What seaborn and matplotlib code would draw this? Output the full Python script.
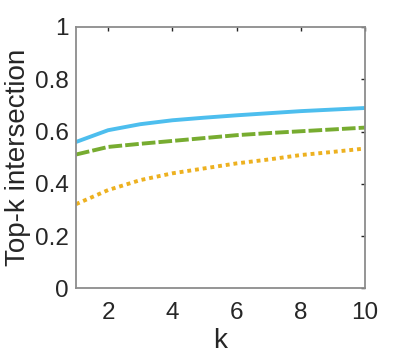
import numpy as np
import pandas as pd
import matplotlib
matplotlib.use('Agg')
import matplotlib.pyplot as plt
import seaborn as sns

k = [1, 2, 3, 4, 5, 6, 7, 8, 9, 10]
blue_vals = [0.560, 0.605, 0.628, 0.643, 0.653, 0.662, 0.670, 0.678, 0.684, 0.690]
green_vals = [0.512, 0.541, 0.553, 0.564, 0.575, 0.586, 0.594, 0.601, 0.608, 0.615]
orange_vals = [0.322, 0.376, 0.414, 0.440, 0.459, 0.478, 0.493, 0.510, 0.522, 0.535]

yticks = [0, 0.2, 0.4, 0.6, 0.8, 1]
ytick_labels = ['0', '0.2', '0.4', '0.6', '0.8', '1']
xticks = [2, 4, 6, 8, 10]

sns.set_style('white')
plt.rcParams['font.family'] = ['Liberation Sans', 'DejaVu Sans']

df = pd.DataFrame({'k': k, 'blue': blue_vals, 'green': green_vals, 'orange': orange_vals})

fig = plt.figure(figsize=(4.03, 3.57), dpi=100)
ax = fig.add_axes([0.1886, 0.1924, 0.717, 0.732])

sns.lineplot(x='k', y='blue', data=df, ax=ax, color='#4DBEEE', linewidth=2.8)
sns.lineplot(x='k', y='green', data=df, ax=ax, color='#77AC30', linewidth=2.8,
             linestyle=(0, (3.5, 0.8)))
sns.lineplot(x='k', y='orange', data=df, ax=ax, color='#EDB120', linewidth=2.8,
             linestyle=(0, (1.0, 1.0)))

ax.set_xlim(1, 10)
ax.set_ylim(0, 1)
ax.set_xticks(xticks)
ax.set_yticks(yticks)
ax.set_yticklabels(ytick_labels)

text_c = '#262626'
for s in ax.spines.values():
    s.set_visible(True)
    s.set_color('#8c8c8c')
    s.set_linewidth(1.3)
ax.tick_params(direction='in', length=3, width=1, color='#262626', labelsize=17.5,
               labelcolor=text_c, top=True, right=True, pad=5)
ax.tick_params(axis='x', pad=10)
ax.set_xlabel('k', fontsize=20, color=text_c, labelpad=3)
ax.set_ylabel('Top-k intersection', fontsize=20, color=text_c, labelpad=3)

fig.savefig('out.png', dpi=100)
